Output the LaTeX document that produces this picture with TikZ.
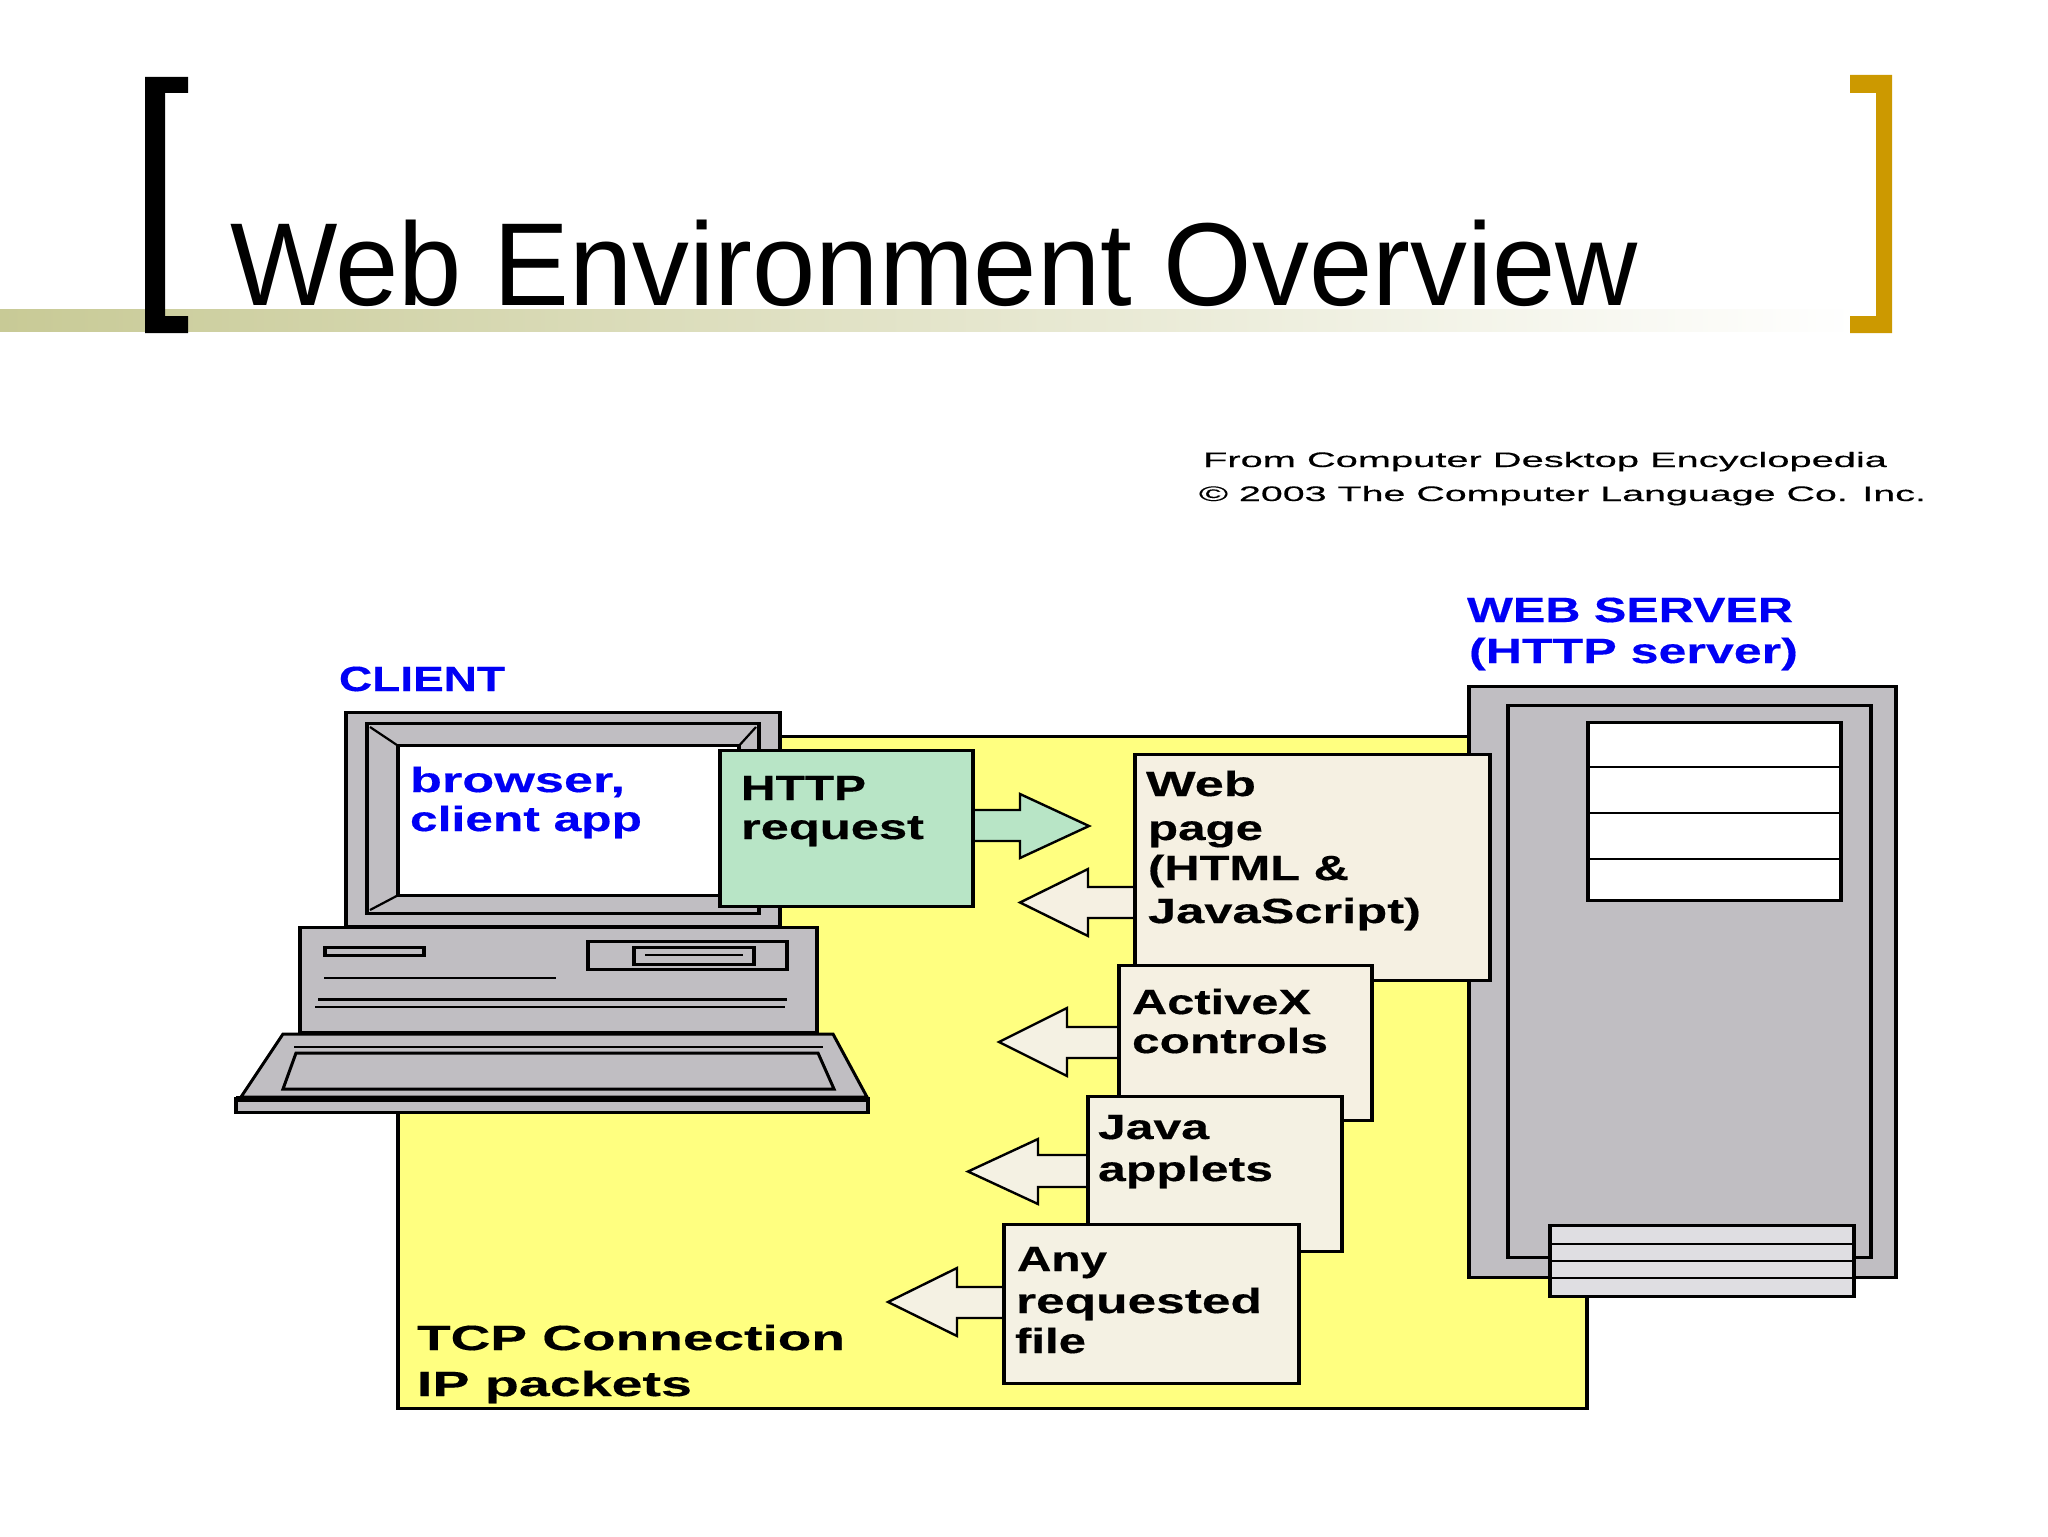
\documentclass[tikz,border=0pt]{standalone}
\usepackage{graphicx}
\usepackage{fontspec}
\setmainfont{Liberation Sans}
\newfontfamily\boldf[FakeBold=0.3]{Liberation Sans Bold}
\newfontfamily\credf[FakeBold=0.3]{Liberation Sans}
\definecolor{ylw}{HTML}{FFFF80}
\definecolor{gry}{HTML}{C0BEC2}
\definecolor{lgry}{HTML}{DFDEE2}
\definecolor{grn}{HTML}{B8E5C6}
\definecolor{bge}{HTML}{F5F0E2}
\definecolor{bgb}{HTML}{F4F1E3}
\definecolor{bnd}{HTML}{C8CA96}
\definecolor{gld}{HTML}{CC9900}
\definecolor{blu}{HTML}{0000F5}
\newsavebox\fitbox
\newcommand\fitline[2]{\sbox\fitbox{#2}\pgfmathsetmacro\fitratio{#1*0.5/\the\wd\fitbox}\scalebox{\fitratio}[1]{\usebox\fitbox}}
\tikzset{
 hl/.style={line width=1.5pt,draw=black,line cap=rect},
 vl/.style={line width=2.1pt,draw=black,shorten <=-0.75pt,shorten >=-0.75pt},
 tn/.style={line width=1.1pt,draw=black},
 boxn/.style={rectangle,draw=black,line width=1.5pt,inner sep=0pt,outer sep=0pt,anchor=north west},
 lbl/.style={anchor=base west,inner sep=0pt,outer sep=0pt,font=\boldf\fontsize{17.5}{20}\selectfont,text=black},
 bluelbl/.style={lbl,text=blu},
 cred/.style={anchor=base west,inner sep=0pt,outer sep=0pt,font=\credf\fontsize{10.5}{12}\selectfont,text=black},
 arw/.style={line width=1.2pt,draw=black,line join=miter}
}
% name x1 y1 x2 y2 fill
\newcommand\bx[6]{%
 \pgfmathsetlengthmacro\bxw{(#4-#2-2)*0.5pt}%
 \pgfmathsetlengthmacro\bxh{(#5-#3-1.5)*0.5pt}%
 \pgfmathsetmacro\bxx{#2+1}%
 \pgfmathsetmacro\bxy{#3+0.75}%
 \node[boxn,fill=#6,minimum width=\bxw,minimum height=\bxh] (#1) at (\bxx,\bxy) {};
 \draw[vl] (#1.north west) -- (#1.south west);
 \draw[vl] (#1.north east) -- (#1.south east);
}
% name x y width text
\newcommand\tl[5][lbl]{\node[#1] (#2) at (#3) {\fitline{#4}{#5}};}
% root tip headx ytop ybot y1 y2 fill
\newcommand\barw[8]{%
 \pgfmathsetmacro\ymid{(#4+#5)/2}%
 \draw[arw,fill=#8] (#1,#6) -- (#3,#6) -- (#3,#4) -- (#2,\ymid) -- (#3,#5) -- (#3,#7) -- (#1,#7) -- cycle;
}
\begin{document}
\begin{tikzpicture}[x=0.5pt,y=-0.5pt]
\useasboundingbox (0,0) rectangle (2048,1536);
\fill[white] (0,0) rectangle (2048,1536);
% title band and brackets
\shade[left color=bnd,right color=white,shading angle=90] (0,309) rectangle (1860,331);
\node[anchor=base west,inner sep=0pt,outer sep=0pt,font=\fontsize{59}{62}\selectfont] (title) at (230,305) {\fitline{1408}{Web Environment Overview}};
\fill[black] (145,77) -- (188,77) -- (188,93) -- (165,93) -- (165,316) -- (188,316) -- (188,333) -- (145,333) -- cycle;
\fill[gld] (1892,75) -- (1850,75) -- (1850,93) -- (1876,93) -- (1876,316) -- (1850,316) -- (1850,333) -- (1892,333) -- cycle;
% credit
\tl[cred]{cr1}{1203,467}{684}{From Computer Desktop Encyclopedia}
\tl[cred]{cr2}{1199,501}{727}{© 2003 The Computer Language Co. Inc.}
% tcp area
\bx{tcp}{397}{736}{1588}{1409}{ylw}
\tl{tcp1}{417,1350}{428}{TCP Connection}
\tl{tcp2}{417,1396}{275}{IP packets}
% monitor
\tl[bluelbl]{client}{339,691}{166}{CLIENT}
\bx{mon}{345}{712}{781}{927}{gry}
\bx{frame}{366}{723}{760}{914}{gry}
\bx{screen}{397}{745}{740}{896}{white}
\draw[tn] (370,727) -- (screen.north west);
\draw[tn] (756,727) -- (screen.north east);
\draw[tn] (370,910) -- (screen.south west);
\tl[bluelbl]{brow}{410,792}{215}{browser,}
\tl[bluelbl]{capp}{410,831}{232}{client app}
% base
\bx{base}{299}{927}{818}{1033}{gry}
\bx{slot}{324}{947}{425}{956}{gry}
\bx{drive}{587}{941}{788}{970}{gry}
\bx{dinner}{633}{947}{755}{965}{gry}
\draw[tn] (645,955) -- (743,955);
\draw[tn] (324,978) -- (556,978);
\draw[hl] (319,999) -- (785,999);
\draw[tn] (315,1007) -- (785,1007);
% keyboard
\draw[hl,fill=gry,line join=miter] (283,1034) -- (833,1034) -- (867,1097) -- (241,1097) -- cycle;
\draw[tn] (294,1047) -- (823,1047);
\draw[hl,line join=miter] (296,1053) -- (818,1053) -- (834,1089) -- (283,1089) -- cycle;
\bx{kbar}{235}{1098}{869}{1113}{gry}
\draw[line width=3pt] (kbar.north west) -- (kbar.north east);
% server
\bx{srv}{1468}{686}{1897}{1278}{gry}
\bx{srvi}{1507}{705}{1872}{1258}{gry}
\bx{disks}{1587}{722}{1842}{901}{white}
\draw[tn] (1587,767) -- (1842,767);
\draw[tn] (1587,813) -- (1842,813);
\draw[tn] (1587,859) -- (1842,859);
\bx{tray}{1549}{1225}{1855}{1297}{lgry}
\draw[tn] (1549,1244) -- (1855,1244);
\draw[tn] (1549,1261) -- (1855,1261);
\draw[tn] (1549,1278) -- (1855,1278);
\tl[bluelbl]{ws1}{1467,622}{326}{WEB SERVER}
\tl[bluelbl]{ws2}{1469,663}{329}{(HTTP server)}
% arrows
\barw{969}{1089}{1020}{794}{858}{810}{841}{grn}
\barw{1139}{1020}{1088}{869}{936}{887}{918}{bge}
\barw{1123}{999}{1067}{1008}{1076}{1027}{1058}{bgb}
\barw{1092}{968}{1038}{1139}{1204}{1155}{1187}{bgb}
\barw{1008}{888}{957}{1268}{1336}{1287}{1318}{bgb}
% http box
\bx{http}{719}{750}{974}{907}{grn}
\tl{h1}{741,800}{125}{HTTP}
\tl{h2}{741,839}{183}{request}
% content boxes
\bx{web}{1134}{754}{1491}{981}{bge}
\tl{w1}{1146,796}{110}{Web}
\tl{w2}{1148,840}{115}{page}
\tl{w3}{1148,880}{201}{(HTML \&}
\tl{w4}{1148,923}{273}{JavaScript)}
\bx{activex}{1118}{965}{1373}{1121}{bge}
\tl{a1}{1132,1014}{179}{ActiveX}
\tl{a2}{1132,1053}{196}{controls}
\bx{java}{1087}{1096}{1343}{1252}{bgb}
\tl{j1}{1098,1139}{111}{Java}
\tl{j2}{1098,1181}{175}{applets}
\bx{file}{1003}{1224}{1300}{1384}{bgb}
\tl{f1}{1017,1271}{90}{Any}
\tl{f2}{1016,1313}{246}{requested}
\tl{f3}{1015,1353}{71}{file}
\end{tikzpicture}
\end{document}
